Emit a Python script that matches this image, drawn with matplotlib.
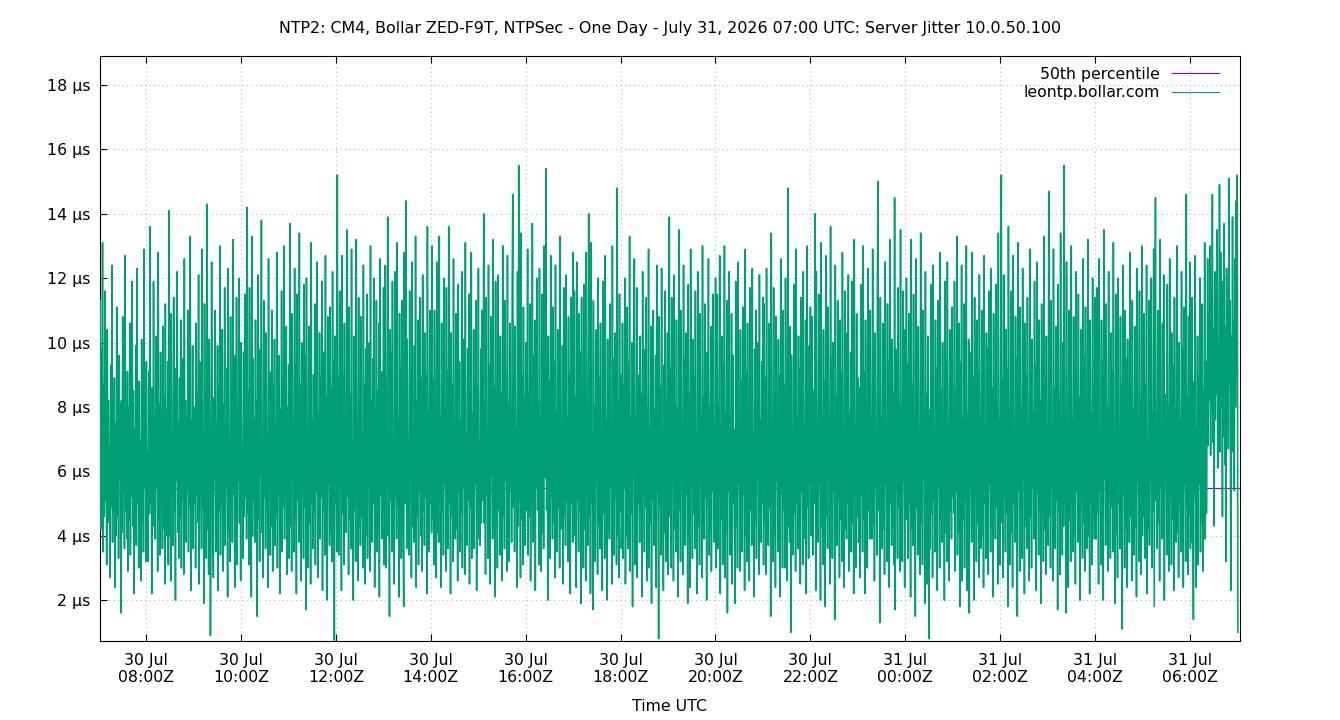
import matplotlib
matplotlib.use("Agg")
import matplotlib.pyplot as plt
import matplotlib.dates as mdates
import pandas as pd

# ---------------- data ----------------
title = "NTP2: CM4, Bollar ZED-F9T, NTPSec - One Day - July 31, 2026 07:00 UTC: Server Jitter 10.0.50.100"
series_label = "leontp.bollar.com"
p50_label = "50th percentile"
p50_value = 5.48  # µs

data_start = "2026-07-30 07:02:00"
data_end = "2026-07-31 07:00:30"
x_start = "2026-07-30 07:01:48"
x_end = "2026-07-31 07:03:12"

# server jitter samples (µs)
jitter_h07 = [11.3, 4.2, 9.8, 5.0, 13.1, 3.5, 8.7, 4.6, 11.6, 5.1, 7.9, 3.1, 10.4, 4.4, 8.2, 5.6, 6.8, 2.7, 9.3, 4.9,
              12.4, 3.8, 7.2, 5.3, 8.9, 2.4, 7.5, 4.0, 11.1, 4.6, 7.7, 3.3, 9.6, 5.8, 8.1, 1.6, 8.2, 4.1, 10.8, 5.4,
              7.0, 3.6, 12.7, 4.8, 6.3, 3.9, 9.1, 2.9, 8.0, 4.5, 10.6, 3.4, 7.6, 5.2, 11.9, 4.3, 8.5, 2.2, 7.3, 4.7,
              9.9, 3.7, 12.3, 5.0, 7.8, 3.0, 8.8, 4.2, 6.9, 2.6, 10.1, 4.4, 8.4, 3.5, 12.9, 5.5, 7.2, 3.2, 9.4, 4.6]
jitter_h08 = [6.6, 3.2, 9.1, 4.7, 13.6, 5.0, 7.4, 2.2, 8.6, 4.3, 11.9, 5.9, 7.7, 3.9, 10.2, 5.5, 7.6, 2.9, 12.8, 4.5,
              8.1, 3.4, 9.7, 4.9, 7.1, 3.6, 10.5, 4.2, 8.3, 2.5, 11.2, 5.3, 7.9, 4.0, 9.4, 3.1, 14.1, 4.0, 7.3, 2.6,
              10.9, 5.2, 6.9, 3.7, 11.4, 4.8, 8.4, 2.0, 9.2, 5.7, 12.2, 4.1, 7.5, 3.3, 8.9, 4.6, 10.7, 3.0, 7.0, 5.1,
              9.5, 2.8, 12.6, 4.4, 8.2, 3.8, 7.7, 5.4, 11.0, 3.5, 8.7, 4.9, 13.3, 2.3, 7.6, 4.2, 9.9, 3.6, 8.0, 5.0]
jitter_h09 = [7.8, 3.0, 10.6, 5.3, 8.4, 4.4, 12.1, 2.5, 9.4, 5.2, 7.2, 3.6, 12.9, 4.9, 7.1, 1.9, 11.2, 5.6, 8.8, 3.3,
              14.3, 4.2, 6.7, 2.8, 10.1, 5.1, 0.9, 3.9, 12.5, 6.4, 4.6, 2.7, 8.3, 5.8, 11.0, 3.5, 7.5, 4.3, 9.9, 2.3,
              8.6, 4.8, 13.0, 3.4, 7.9, 5.0, 10.4, 2.9, 8.1, 4.5, 11.7, 3.7, 7.4, 5.5, 9.2, 2.1, 12.3, 4.1, 7.0, 3.2,
              10.8, 4.7, 8.5, 3.8, 13.2, 5.3, 7.6, 2.4, 9.6, 4.0, 11.4, 3.1, 8.0, 5.7, 12.0, 4.4, 7.3, 2.6, 10.0, 4.9]
jitter_h10 = [6.8, 3.3, 9.7, 4.6, 11.5, 5.2, 7.8, 3.9, 14.2, 4.7, 8.5, 3.1, 11.7, 5.4, 7.0, 2.1, 13.3, 4.0, 9.5, 5.1,
              7.6, 3.8, 10.7, 5.0, 8.2, 1.5, 12.1, 4.5, 7.7, 3.2, 9.8, 5.9, 13.8, 4.1, 6.5, 2.7, 11.3, 5.2, 8.6, 3.6,
              10.3, 4.8, 7.2, 2.4, 12.6, 5.5, 9.1, 3.4, 7.4, 4.3, 11.0, 2.9, 8.7, 5.0, 10.1, 3.7, 7.5, 4.6, 12.8, 3.0,
              8.3, 5.3, 9.6, 2.2, 7.9, 4.4, 11.6, 3.5, 8.9, 4.9, 13.0, 3.9, 7.1, 5.6, 10.5, 2.8, 8.0, 4.2, 9.3, 3.3]
jitter_h11 = [13.7, 4.3, 8.0, 2.9, 10.9, 5.7, 7.4, 3.5, 12.3, 4.6, 9.3, 2.2, 11.5, 5.1, 7.6, 3.8, 13.4, 4.0, 8.7, 2.6,
              10.0, 5.8, 7.1, 3.3, 11.8, 4.9, 9.6, 1.7, 12.0, 5.3, 7.3, 3.0, 10.5, 4.4, 8.4, 2.5, 13.1, 5.0, 7.6, 3.6,
              9.0, 4.7, 11.2, 3.1, 8.1, 5.4, 12.5, 2.7, 7.8, 4.2, 10.3, 3.9, 8.9, 5.2, 11.9, 2.3, 7.2, 4.8, 9.7, 3.4,
              12.7, 4.5, 8.3, 2.0, 10.8, 5.6, 7.5, 3.7, 11.1, 4.1, 8.6, 3.2, 12.2, 4.6, 9.4, 0.75, 10.2, 5.0, 7.7, 3.5]
jitter_h12 = [15.2, 4.2, 8.9, 3.4, 11.6, 5.6, 7.3, 2.3, 12.7, 4.7, 9.0, 3.1, 10.6, 6.0, 7.4, 4.1, 13.5, 5.2, 7.8, 2.8,
              11.1, 4.5, 8.3, 3.6, 12.9, 5.4, 6.9, 2.0, 10.2, 4.8, 9.4, 3.2, 13.2, 5.9, 7.5, 2.6, 11.4, 4.3, 8.1, 3.7,
              10.8, 4.6, 7.0, 3.0, 12.4, 5.1, 8.7, 2.5, 9.8, 4.0, 11.5, 3.3, 7.6, 5.5, 10.0, 2.9, 13.0, 4.4, 8.2, 3.8,
              9.5, 5.0, 12.0, 2.4, 7.9, 4.9, 11.3, 3.5, 8.5, 4.2, 10.6, 2.1, 12.6, 5.3, 7.2, 3.9, 9.1, 4.7, 11.7, 3.1]
jitter_h13 = [4.6, 12.4, 3.0, 8.6, 5.5, 13.9, 4.0, 7.2, 1.5, 10.4, 5.1, 9.7, 3.5, 11.9, 4.4, 6.8, 2.5, 12.2, 5.2, 8.0,
              3.9, 13.1, 4.9, 7.6, 2.1, 10.9, 5.3, 9.2, 3.3, 11.3, 6.2, 4.2, 1.8, 12.8, 5.0, 8.5, 14.4, 3.6, 10.1, 4.7,
              7.0, 3.4, 11.6, 5.7, 8.8, 2.7, 12.5, 4.3, 7.4, 3.8, 9.9, 5.1, 13.3, 2.4, 8.2, 4.6, 10.7, 3.1, 7.7, 5.4,
              11.4, 4.0, 8.9, 2.9, 12.1, 4.8, 7.1, 3.7, 10.3, 5.2, 9.0, 2.2, 13.6, 4.5, 7.8, 3.5, 11.0, 5.0, 8.4, 4.1]
jitter_h14 = [13.0, 4.5, 8.8, 3.1, 11.0, 5.8, 7.4, 2.7, 12.5, 4.1, 9.5, 3.8, 13.3, 5.2, 7.7, 2.4, 10.6, 4.8, 8.2, 3.4,
              12.0, 5.6, 7.9, 2.9, 11.7, 4.3, 9.1, 3.6, 13.6, 5.0, 7.4, 2.2, 10.3, 4.6, 8.7, 3.2, 12.6, 5.4, 7.3, 3.9,
              10.9, 4.2, 8.0, 2.6, 11.8, 5.3, 9.4, 3.5, 7.6, 4.7, 12.2, 3.0, 8.5, 5.5, 10.1, 2.8, 13.1, 4.4, 7.2, 3.7,
              9.8, 5.1, 11.5, 2.5, 8.3, 4.9, 12.8, 3.3, 7.8, 4.0, 10.4, 3.6, 9.0, 5.6, 11.3, 2.3, 8.6, 4.5, 12.3, 3.9]
jitter_h15 = [6.9, 3.7, 9.8, 4.4, 11.0, 5.1, 8.0, 14.0, 4.4, 8.0, 2.8, 11.4, 5.3, 7.1, 3.3, 12.4, 4.7, 9.3, 2.5, 10.8,
              5.9, 7.6, 3.9, 13.2, 4.2, 8.6, 2.1, 11.9, 5.5, 7.7, 3.0, 12.1, 4.8, 9.6, 3.4, 10.2, 5.0, 8.4, 2.6, 13.0,
              4.6, 7.5, 3.6, 11.3, 5.7, 9.0, 2.9, 12.7, 4.1, 8.1, 3.2, 10.6, 5.4, 7.9, 3.8, 11.8, 14.6, 4.9, 8.9, 3.5,
              10.5, 5.2, 7.3, 2.4, 12.2, 4.3, 15.5, 5.1, 7.2, 2.7, 13.4, 4.5, 9.0, 3.1, 11.1, 5.6, 8.3, 3.7, 10.0, 4.8]
jitter_h16 = [5.7, 12.9, 3.4, 8.4, 4.6, 11.2, 2.6, 7.5, 5.0, 13.7, 3.8, 9.6, 4.3, 10.7, 2.3, 7.9, 5.5, 12.0, 4.8, 8.1,
              3.1, 12.3, 5.4, 7.6, 2.9, 11.5, 4.1, 9.2, 3.6, 13.0, 5.8, 7.5, 15.4, 4.8, 8.6, 2.0, 10.2, 4.7, 8.8, 3.3,
              12.7, 5.2, 7.0, 3.9, 11.1, 4.4, 9.4, 2.7, 12.4, 5.6, 7.8, 3.5, 10.4, 4.9, 8.2, 3.0, 13.3, 4.2, 7.3, 5.3,
              9.9, 2.5, 11.7, 4.6, 8.0, 3.7, 12.1, 5.1, 7.7, 3.2, 10.8, 4.5, 9.1, 2.2, 11.4, 5.0, 8.5, 3.8, 12.8, 4.0]
jitter_h17 = [11.6, 4.4, 8.3, 2.4, 12.5, 5.1, 7.3, 3.5, 10.9, 4.8, 9.7, 1.9, 11.4, 5.6, 7.8, 3.0, 11.8, 4.2, 8.5, 2.6,
              12.8, 5.3, 7.8, 3.7, 14.0, 4.6, 9.1, 2.2, 13.1, 5.0, 7.2, 1.7, 11.3, 4.9, 8.0, 3.2, 10.4, 5.7, 7.4, 2.8,
              12.0, 4.3, 8.9, 3.6, 10.6, 5.4, 7.1, 2.3, 11.9, 4.7, 9.3, 3.3, 12.7, 5.0, 7.6, 2.0, 10.1, 4.1, 8.6, 3.9,
              11.2, 5.5, 7.0, 2.5, 13.0, 4.5, 9.5, 3.4, 10.3, 5.2, 7.9, 3.1, 14.8, 4.0, 8.2, 2.7, 11.5, 4.8, 9.0, 3.6]
jitter_h18 = [4.5, 10.6, 3.3, 8.7, 5.5, 12.0, 2.5, 7.1, 4.0, 11.1, 3.6, 9.4, 5.2, 13.3, 2.9, 7.7, 4.7, 10.0, 1.8, 8.2,
              5.8, 12.6, 3.1, 7.7, 4.3, 11.7, 2.7, 9.0, 5.0, 7.4, 3.8, 10.2, 4.6, 8.4, 2.1, 12.2, 5.3, 7.6, 3.5, 9.8,
              4.9, 11.4, 2.6, 8.0, 5.6, 12.9, 3.0, 7.3, 4.4, 10.5, 1.9, 8.8, 5.1, 11.0, 3.7, 7.9, 4.8, 9.6, 2.4, 12.4,
              5.4, 7.2, 0.8, 10.8, 4.9, 8.6, 3.4, 12.3, 5.4, 7.2, 2.3, 9.3, 4.1, 11.6, 3.2, 8.1, 5.7, 10.3, 2.8, 7.5]
jitter_h19 = [13.9, 4.6, 9.2, 3.0, 11.4, 5.7, 7.5, 2.6, 12.1, 4.2, 8.1, 3.5, 10.7, 5.1, 7.9, 2.1, 13.5, 4.8, 8.8, 3.2,
              11.0, 5.9, 7.3, 2.8, 12.4, 4.4, 9.5, 3.7, 10.3, 5.3, 7.6, 1.9, 11.8, 4.0, 8.4, 2.4, 12.9, 5.5, 7.8, 3.3,
              10.1, 4.7, 8.9, 3.6, 11.6, 5.0, 7.1, 2.2, 12.2, 4.3, 9.0, 3.1, 10.9, 5.6, 7.7, 2.7, 13.0, 4.5, 8.3, 3.9,
              11.2, 5.2, 7.0, 2.0, 9.7, 4.9, 12.6, 3.4, 8.0, 4.1, 10.5, 2.9, 8.6, 5.4, 11.5, 3.8, 7.4, 4.6, 12.0, 3.0]
jitter_h20 = [4.9, 11.5, 3.6, 8.0, 5.2, 12.7, 2.2, 7.4, 4.5, 10.2, 3.1, 9.3, 5.8, 13.0, 2.7, 7.8, 4.1, 11.3, 1.6, 8.5,
              5.4, 12.2, 3.4, 7.7, 4.7, 10.9, 2.5, 9.6, 5.0, 7.3, 3.9, 1.9, 11.9, 4.3, 8.3, 3.0, 12.5, 5.6, 7.1, 2.9,
              10.4, 4.6, 8.8, 3.5, 11.1, 5.3, 7.5, 2.3, 12.9, 4.0, 9.1, 3.2, 10.6, 5.5, 7.9, 2.6, 11.7, 4.8, 8.2, 3.7,
              12.3, 5.1, 7.2, 2.1, 9.8, 4.4, 11.0, 3.3, 8.7, 5.7, 10.0, 2.8, 12.1, 4.2, 7.6, 3.8, 9.4, 5.0, 11.4, 3.1]
jitter_h21 = [11.2, 4.4, 8.9, 2.8, 12.3, 5.5, 7.0, 3.7, 10.6, 4.9, 9.4, 1.5, 13.4, 5.1, 7.5, 3.2, 11.7, 4.0, 8.2, 2.4,
              10.8, 5.7, 7.6, 3.5, 10.1, 4.6, 9.0, 2.1, 12.6, 5.3, 7.9, 3.0, 11.0, 4.8, 8.7, 3.0, 12.0, 5.9, 7.3, 2.6,
              14.8, 4.3, 8.1, 3.8, 10.5, 1.0, 9.6, 5.2, 7.2, 3.4, 11.8, 4.7, 8.5, 2.9, 12.9, 5.0, 7.7, 3.6, 10.2, 4.1,
              9.2, 2.5, 11.4, 5.4, 8.0, 3.1, 12.2, 4.5, 7.4, 3.9, 10.7, 2.2, 13.0, 4.9, 8.4, 3.3, 9.9, 5.6, 11.1, 4.0]
jitter_h22 = [4.2, 10.8, 3.4, 8.5, 5.0, 8.1, 14.0, 2.3, 12.2, 4.7, 7.5, 3.8, 11.5, 5.6, 9.2, 2.0, 13.1, 4.3, 7.7, 3.1,
              10.4, 5.2, 8.8, 1.8, 12.7, 4.6, 7.9, 3.6, 11.1, 5.8, 7.2, 2.5, 13.6, 4.9, 9.5, 3.3, 10.0, 5.4, 7.2, 1.4,
              12.4, 4.0, 8.3, 3.7, 11.3, 5.1, 7.6, 2.7, 10.7, 4.5, 9.1, 3.2, 12.8, 5.5, 7.0, 2.4, 11.6, 4.2, 8.6, 3.9,
              10.3, 5.0, 12.1, 2.9, 7.8, 4.8, 9.7, 3.5, 11.9, 4.4, 8.2, 2.2, 13.2, 5.3, 7.4, 3.0, 10.9, 4.6, 8.9, 3.8]
jitter_h23 = [4.1, 8.6, 2.7, 11.8, 5.3, 7.4, 3.5, 13.0, 4.5, 9.1, 2.2, 10.7, 5.9, 7.6, 3.0, 12.3, 4.8, 8.3, 3.9, 11.0,
              5.1, 7.7, 3.9, 12.9, 4.4, 9.6, 2.6, 10.3, 5.5, 7.1, 3.4, 12.0, 15.0, 4.8, 8.3, 1.3, 11.4, 5.1, 7.7, 3.6,
              10.6, 4.2, 8.9, 2.8, 12.5, 5.6, 7.3, 3.2, 11.2, 4.6, 9.4, 2.4, 13.2, 5.0, 7.9, 3.7, 10.1, 4.3, 8.4, 3.1,
              14.5, 1.7, 9.8, 5.4, 7.5, 3.3, 11.7, 4.9, 8.1, 2.9, 13.5, 4.0, 8.0, 3.2, 11.6, 5.7, 7.1, 2.4, 10.4, 4.5]
jitter_h00 = [12.0, 4.6, 9.3, 3.3, 10.9, 5.0, 7.6, 2.1, 13.2, 4.2, 8.7, 3.7, 11.5, 5.6, 7.4, 1.5, 12.6, 4.9, 8.1, 3.4,
              10.5, 5.3, 7.2, 2.8, 13.4, 4.4, 9.0, 3.1, 11.0, 5.8, 7.8, 1.9, 12.2, 4.0, 8.4, 2.5, 10.2, 5.2, 0.8, 7.9,
              3.6, 11.8, 4.7, 8.8, 2.7, 12.4, 5.1, 7.0, 3.5, 10.7, 4.3, 9.2, 2.3, 11.3, 5.5, 7.7, 3.0, 12.8, 4.5, 8.5,
              3.8, 10.0, 5.0, 7.3, 2.0, 11.9, 4.1, 9.5, 3.2, 12.5, 5.4, 7.5, 2.6, 10.4, 4.8, 8.2, 3.9, 11.1, 5.2, 7.1]
jitter_h01 = [4.7, 11.9, 2.9, 8.5, 5.4, 13.3, 3.4, 7.0, 4.1, 10.6, 1.8, 9.4, 5.7, 12.4, 2.6, 7.6, 4.5, 11.2, 3.0, 8.2,
              5.1, 13.0, 2.3, 7.8, 4.8, 10.1, 1.6, 9.7, 5.5, 7.1, 3.8, 12.8, 4.3, 8.9, 2.0, 11.4, 5.9, 7.3, 3.2, 10.7,
              4.4, 9.1, 2.7, 12.1, 5.3, 7.7, 3.6, 11.0, 4.0, 8.3, 2.4, 12.7, 5.0, 7.4, 3.3, 10.3, 4.6, 9.8, 2.8, 11.6,
              5.6, 7.9, 3.5, 12.3, 4.2, 8.6, 2.1, 10.9, 5.2, 7.2, 3.9, 11.8, 4.9, 8.0, 2.5, 13.4, 5.5, 7.6, 3.1, 9.9]
jitter_h02 = [15.2, 4.4, 8.8, 2.7, 12.1, 5.2, 7.5, 3.5, 10.4, 4.7, 9.2, 1.8, 13.6, 5.6, 7.9, 3.1, 11.6, 4.1, 8.4, 2.4,
              12.7, 5.0, 7.1, 3.8, 10.8, 4.5, 9.5, 1.5, 13.1, 5.4, 7.5, 2.9, 11.1, 4.9, 8.0, 3.3, 12.3, 5.8, 7.7, 2.2,
              10.6, 4.3, 9.0, 3.6, 11.4, 5.1, 7.3, 2.6, 12.9, 4.6, 8.6, 3.0, 10.1, 5.5, 7.8, 3.9, 11.9, 4.0, 9.3, 2.3,
              12.5, 5.3, 7.0, 3.4, 10.7, 4.8, 8.2, 1.9, 11.2, 5.7, 7.6, 3.2, 13.3, 4.2, 8.9, 2.8, 10.2, 5.0, 7.4, 3.7]
jitter_h03 = [14.7, 4.6, 9.0, 3.0, 11.3, 5.5, 7.4, 2.6, 12.9, 4.2, 8.6, 3.6, 10.5, 5.1, 7.7, 1.7, 11.8, 4.8, 8.2, 2.8,
              13.4, 5.3, 7.0, 3.4, 10.0, 4.3, 15.5, 5.1, 7.7, 1.6, 12.5, 5.7, 7.3, 2.4, 11.0, 4.5, 8.5, 3.2, 13.0, 5.0,
              7.6, 3.5, 10.8, 4.1, 9.3, 2.5, 12.2, 5.4, 7.9, 3.8, 11.5, 4.7, 8.3, 2.0, 10.4, 5.2, 7.1, 3.3, 12.6, 4.4,
              9.6, 2.9, 11.1, 5.6, 7.5, 3.6, 13.2, 4.0, 8.1, 2.2, 10.7, 5.0, 7.8, 3.1, 12.0, 4.6, 8.8, 3.9, 11.4, 4.9]
jitter_h04 = [3.9, 11.7, 4.7, 8.9, 2.5, 12.6, 5.4, 7.2, 3.1, 10.7, 4.0, 9.4, 2.0, 13.5, 5.8, 7.6, 3.7, 11.2, 4.4, 8.0,
              2.9, 12.2, 5.2, 7.8, 3.3, 10.3, 4.9, 9.1, 3.5, 13.1, 5.6, 7.1, 1.9, 11.5, 4.1, 8.3, 2.7, 12.0, 5.0, 7.4,
              3.6, 10.8, 4.5, 8.7, 1.1, 12.4, 5.3, 7.7, 3.0, 11.0, 4.2, 9.5, 2.4, 10.1, 5.5, 7.3, 3.8, 12.8, 4.6, 8.5,
              2.6, 11.3, 5.1, 7.9, 3.4, 10.5, 4.3, 9.0, 2.1, 12.3, 5.7, 7.5, 3.2, 11.6, 4.8, 8.2, 2.8, 13.0, 4.0, 7.0]
jitter_h05 = [4.6, 10.9, 3.3, 8.7, 5.3, 12.4, 2.2, 7.0, 4.2, 11.3, 3.7, 9.2, 5.7, 12.0, 3.0, 7.8, 4.8, 12.9, 1.8, 8.1,
              14.5, 5.1, 7.5, 3.6, 11.0, 4.4, 9.6, 2.6, 13.2, 5.5, 7.4, 3.9, 10.6, 4.0, 12.1, 2.0, 8.4, 5.9, 7.7, 3.4,
              11.8, 4.7, 8.0, 2.9, 12.6, 5.2, 7.2, 3.1, 10.3, 4.5, 9.3, 2.3, 11.4, 5.4, 7.9, 3.8, 13.0, 4.1, 8.6, 2.7,
              10.0, 5.0, 7.6, 3.5, 12.2, 4.3, 9.8, 2.4, 11.1, 5.6, 7.3, 3.2, 14.6, 4.9, 8.3, 2.8, 10.8, 4.6, 12.5, 3.6]
jitter_h06 = [8.9, 3.8, 11.4, 4.9, 1.4, 8.8, 5.2, 12.7, 2.4, 7.3, 4.5, 10.2, 3.1, 9.0, 5.6, 12.0, 3.5, 7.7, 4.4, 11.2,
              2.9, 8.5, 5.0, 13.1, 3.9, 9.4, 4.7, 7.4, 12.6, 6.8, 10.9, 8.2, 13.0, 6.5, 11.6, 7.9, 14.6, 6.9, 10.4, 4.3,
              12.2, 7.6, 11.0, 8.4, 13.5, 6.1, 9.8, 7.3, 14.9, 6.6, 12.8, 8.0, 10.4, 4.6, 11.9, 7.1, 13.7, 6.2, 10.5, 3.2,
              12.3, 7.4, 11.1, 6.7, 15.1, 8.8, 11.3, 2.3, 10.2, 6.6, 13.9, 7.6, 10.7, 5.4, 12.6, 8.0, 14.4, 9.0, 15.2, 1.0]

hourly_blocks = [jitter_h07, jitter_h08, jitter_h09, jitter_h10, jitter_h11, jitter_h12, jitter_h13, jitter_h14,
                 jitter_h15, jitter_h16, jitter_h17, jitter_h18, jitter_h19, jitter_h20, jitter_h21, jitter_h22,
                 jitter_h23, jitter_h00, jitter_h01, jitter_h02, jitter_h03, jitter_h04, jitter_h05, jitter_h06]
jitter = [v for block in hourly_blocks for v in block]
times = pd.date_range(data_start, data_end, periods=len(jitter))

y_ticks = [2, 4, 6, 8, 10, 12, 14, 16, 18]
y_min, y_max = 0.73, 18.9

# ---------------- plot ----------------
plt.rcParams['font.family'] = ['DejaVu Sans']
FS = 11.3
fig = plt.figure(figsize=(13.4, 7.2), dpi=100)
ax = fig.add_axes([100 / 1340, 1 - 641 / 720, 1140 / 1340, 585 / 720])

xs = pd.to_datetime([x_start, x_end])
ax.plot(xs, [p50_value, p50_value], color='#9400d3', lw=0.9, label=p50_label, zorder=2)
ax.plot(times, jitter, color='#009e73', lw=1.15, label=series_label, zorder=3)

ax.set_xlim(xs[0], xs[1])
ax.set_ylim(y_min, y_max)
ax.set_yticks(y_ticks)
ax.set_yticklabels([f"{t} µs" for t in y_ticks])

ax.xaxis.set_major_locator(mdates.HourLocator(byhour=range(0, 24, 2)))
ax.xaxis.set_major_formatter(mdates.DateFormatter("%d %b\n%H:%MZ"))

ax.tick_params(axis='x', direction='in', length=5, width=0.8, top=True, labelsize=FS, pad=9)
ax.tick_params(axis='y', direction='in', length=5, width=0.8, right=False, labelsize=FS, pad=7)
for lab in ax.get_xticklabels():
    lab.set_linespacing(1.15)

ax.grid(True, color='#b8b8b8', lw=0.8, linestyle=(0, (1, 3)), zorder=0)
ax.set_axisbelow(True)
for s in ax.spines.values():
    s.set_linewidth(0.8)
    s.set_color('black')

ax.set_xlabel("Time UTC", fontsize=FS, labelpad=10)
fig.text(0.5, 1 - 29 / 720, title, ha='center', va='center', fontsize=11.45)

leg = ax.legend(loc='upper right', frameon=False, markerfirst=False, fontsize=FS,
                handlelength=3.0, handletextpad=0.75, labelspacing=0.22,
                borderaxespad=0.3, bbox_to_anchor=(1 - 10 / 1140, 1.0))
for line in leg.get_lines():
    line.set_linewidth(0.8)

fig.savefig("out.png", dpi=100)
